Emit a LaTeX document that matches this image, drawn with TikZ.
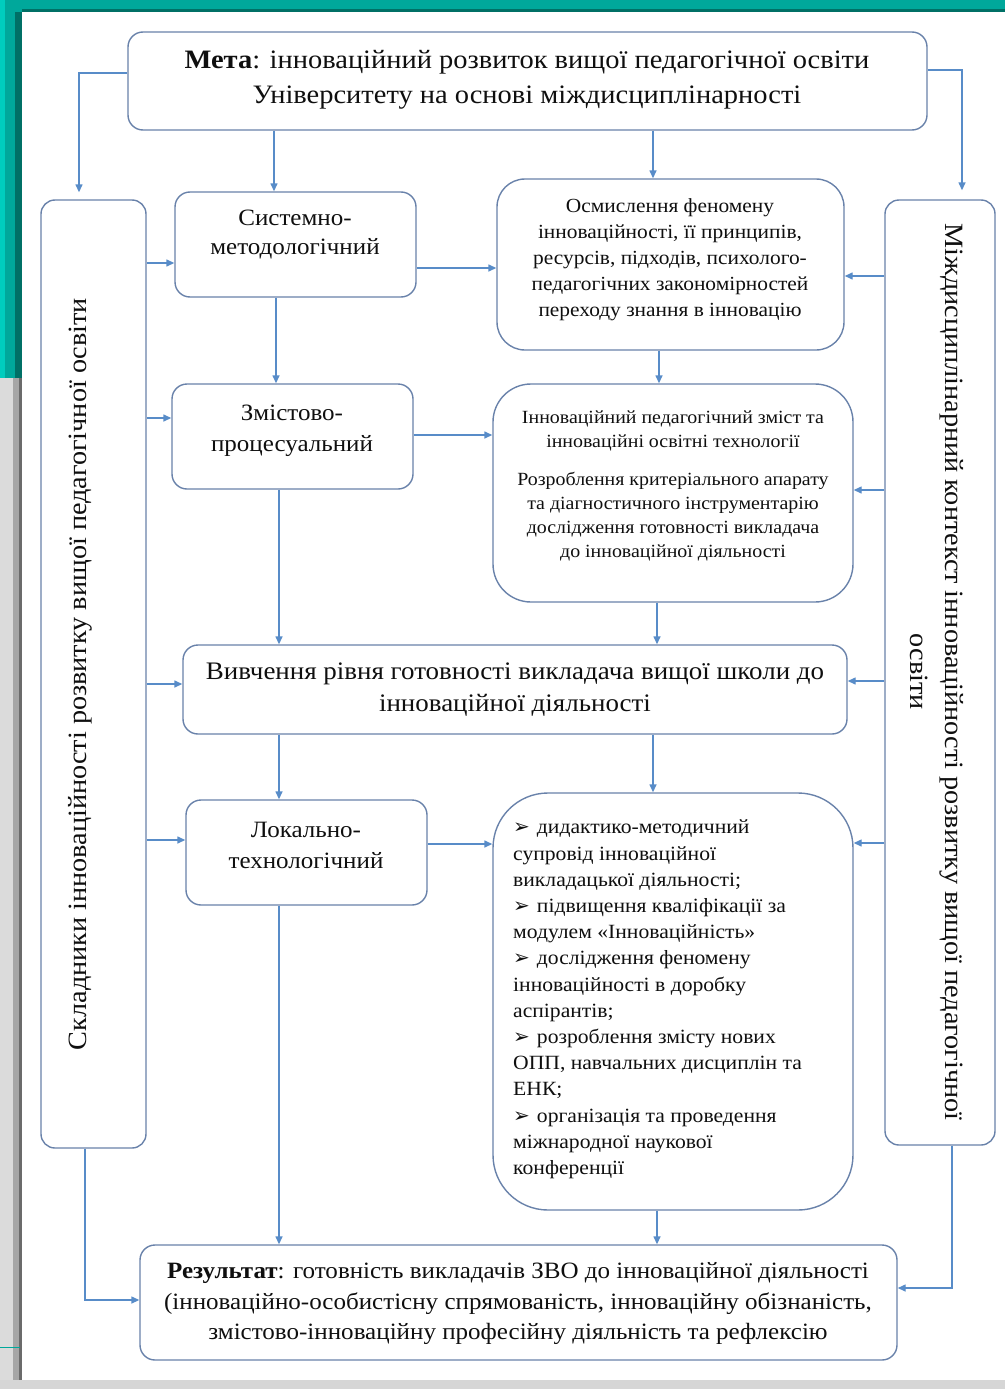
\documentclass[tikz,border=0pt]{standalone}
\usepackage{fontspec}
\setmainfont{Liberation Serif}[FakeStretch=1.07]
\newfontfamily\dejavu{DejaVu Sans}
\usetikzlibrary{arrows.meta}
\definecolor{boxc}{RGB}{105,130,170}
\definecolor{arrc}{RGB}{88,140,200}
\definecolor{txtc}{RGB}{15,15,15}
\definecolor{tealA}{RGB}{0,168,155}
\definecolor{tealB}{RGB}{0,112,102}
\definecolor{tealC}{RGB}{0,205,190}
\newcommand{\bul}{{\dejavu\fontsize{20}{20}\selectfont ➢}\hspace{7pt}}
\begin{document}
\begin{tikzpicture}[x=1pt,y=-1pt,
  box/.style={draw=boxc,line width=1.4pt,fill=white,rounded corners=#1,inner sep=0pt},
  box/.default=15pt,
  txt/.style={text=txtc,align=center,inner sep=0pt},
  arr/.style={draw=arrc,line width=1.4pt,-{Triangle[length=8pt,width=7pt]}}]
\useasboundingbox (0,0) rectangle (1005,1389);
% slide background
\fill[white] (0,0) rectangle (1005,1389);
\fill[tealA] (0,0) rectangle (1005,9);
\fill[tealB] (0,9) rectangle (1005,12);
\fill[tealA] (0,0) rectangle (22,378);
\fill[tealC] (0,0) rectangle (5,378);
\fill[tealB] (15,12) rectangle (22,378);
\fill[black!14] (0,378) rectangle (22,1389);
\fill[black!35] (13,378) rectangle (19,1389);
\fill[black!58] (19,378) rectangle (22,1380);
\fill[black!16] (0,1380) rectangle (1005,1389);
\draw[tealA,line width=1pt] (0,1347) -- (20,1347);
% boxes
\node[box, minimum width=799pt, minimum height=98pt] (meta) at (527.5,81) {};
\node[box=14pt, minimum width=105pt, minimum height=948pt] (left) at (93.5,674) {};
\node[box=14pt, minimum width=110pt, minimum height=945pt] (right) at (940,672.5) {};
\node[box, minimum width=241pt, minimum height=105pt] (sys) at (295.5,244.5) {};
\node[box=28pt, minimum width=347pt, minimum height=171pt] (osm) at (670.5,264.5) {};
\node[box, minimum width=241pt, minimum height=105pt] (zmist) at (292.5,436.5) {};
\node[box=38pt, minimum width=360pt, minimum height=218pt] (innov) at (673,493) {};
\node[box, minimum width=664pt, minimum height=89pt] (vyvch) at (515,689.5) {};
\node[box, minimum width=241pt, minimum height=105pt] (lok) at (306.5,852.5) {};
\node[box=55pt, minimum width=360pt, minimum height=417pt] (bull) at (673,1001.5) {};
\node[box, minimum width=757pt, minimum height=115pt] (res) at (518.5,1302.5) {};
% texts
\node[txt, font=\fontsize{26.6}{35}\selectfont] (metaT) at (527,79.5)
  {\textbf{Мета}: інноваційний розвиток вищої педагогічної освіти\\Університету на основі міждисциплінарності};
\node[txt, font=\fontsize{23.4}{29}\selectfont] (sysT) at (295,234.5) {Системно-\\методологічний};
\node[txt, font=\fontsize{20}{26}\selectfont] (osmT) at (670,260)
  {Осмислення феномену\\інноваційності, її принципів,\\ресурсів, підходів, психолого-\\педагогічних закономірностей\\переходу знання в інновацію};
\node[txt, font=\fontsize{23.4}{31}\selectfont] (zmistT) at (292,430.5) {Змістово-\\процесуальний};
\node[txt, font=\fontsize{18.6}{24}\selectfont] (innovT) at (673,486)
  {Інноваційний педагогічний зміст та\\інноваційні освітні технології\\[14pt]Розроблення критеріального апарату\\та діагностичного інструментарію\\дослідження готовності викладача\\до інноваційної діяльності};
\node[txt, font=\fontsize{25.2}{32}\selectfont] (vyvchT) at (515,690)
  {Вивчення рівня готовності викладача вищої школи до\\інноваційної діяльності};
\node[txt, font=\fontsize{23.4}{31}\selectfont] (lokT) at (306,845.5) {Локально-\\технологічний};
\node[txt, align=left, anchor=west, font=\fontsize{20.2}{26.2}\selectfont] (bullT) at (513,999.5)
  {\bul дидактико-методичний\\супровід інноваційної\\викладацької діяльності;\\\bul підвищення кваліфікації за\\модулем «Інноваційність»\\\bul дослідження феномену\\інноваційності в доробку\\аспірантів;\\\bul розроблення змісту нових\\ОПП, навчальних дисциплін та\\ЕНК;\\\bul організація та проведення\\міжнародної наукової\\конференції};
\node[txt, font=\fontsize{23.4}{30.5}\selectfont] (resT) at (518,1303.5)
  {\textbf{Результат}: готовність викладачів ЗВО до інноваційної діяльності\\(інноваційно-особистісну спрямованість, інноваційну обізнаність,\\змістово-інноваційну професійну діяльність та рефлексію};
\node[txt, rotate=90, font=\fontsize{26.4}{35}\selectfont] (leftT) at (80,674)
  {Складники інноваційності розвитку вищої педагогічної освіти};
\node[txt, rotate=-90, font=\fontsize{26.4}{35}\selectfont] (rightT) at (937,672)
  {Міждисциплінарний контекст інноваційності розвитку вищої педагогічної\\освіти};
% connectors from Meta
\draw[arr] ([yshift=8pt]meta.west) -| ([xshift=-14.5pt,yshift=7pt]left.north);
\draw[arr] ([yshift=11pt]meta.east) -| ([xshift=22pt,yshift=9pt]right.north);
\draw[arr] ([xshift=-21.5pt]sys.north |- meta.south) -- ([xshift=-21.5pt]sys.north);
\draw[arr] ([xshift=-17.5pt]osm.north |- meta.south) -- ([xshift=-17.5pt]osm.north);
% vertical flow
\draw[arr] ([xshift=-19.5pt]sys.south) -- ([xshift=-19.5pt]sys.south |- zmist.north);
\draw[arr] ([xshift=-11.5pt]osm.south) -- ([xshift=-11.5pt]osm.south |- innov.north);
\draw[arr] ([xshift=-13.5pt]zmist.south) -- ([xshift=-13.5pt]zmist.south |- vyvch.north);
\draw[arr] ([xshift=-16pt]innov.south) -- ([xshift=-16pt]innov.south |- vyvch.north);
\draw[arr] ([xshift=-27.5pt]lok.north |- vyvch.south) -- ([xshift=-27.5pt]lok.north);
\draw[arr] ([xshift=-20pt]bull.north |- vyvch.south) -- ([xshift=-20pt]bull.north);
\draw[arr] ([xshift=-27.5pt]lok.south) -- ([xshift=-27.5pt]lok.south |- res.north);
\draw[arr] ([xshift=-16pt]bull.south) -- ([xshift=-16pt]bull.south |- res.north);
% horizontal flow
\draw[arr] ([yshift=-23.5pt]sys.east) -- ([yshift=-23.5pt]sys.east -| osm.west);
\draw[arr] ([yshift=1.5pt]zmist.east) -- ([yshift=1.5pt]zmist.east -| innov.west);
\draw[arr] ([yshift=8.5pt]lok.east) -- ([yshift=8.5pt]lok.east -| bull.west);
% from left column
\draw[arr] ([yshift=-18.5pt]sys.west -| left.east) -- ([yshift=-18.5pt]sys.west);
\draw[arr] ([yshift=18.5pt]zmist.west -| left.east) -- ([yshift=18.5pt]zmist.west);
\draw[arr] ([yshift=5.5pt]vyvch.west -| left.east) -- ([yshift=5.5pt]vyvch.west);
\draw[arr] ([yshift=12.5pt]lok.west -| left.east) -- ([yshift=12.5pt]lok.west);
\draw[arr] ([xshift=-8.5pt]left.south) |- ([yshift=2.5pt]res.west);
% from right column
\draw[arr] ([yshift=-11.5pt]osm.east -| right.west) -- ([yshift=-11.5pt]osm.east);
\draw[arr] ([yshift=3pt]innov.east -| right.west) -- ([yshift=3pt]innov.east);
\draw[arr] ([yshift=8.5pt]vyvch.east -| right.west) -- ([yshift=8.5pt]vyvch.east);
\draw[arr] ([yshift=158.5pt]bull.east -| right.west) -- ([yshift=158.5pt]bull.east);
\draw[arr] ([xshift=12pt]right.south) |- ([yshift=14.5pt]res.east);
\end{tikzpicture}
\end{document}
